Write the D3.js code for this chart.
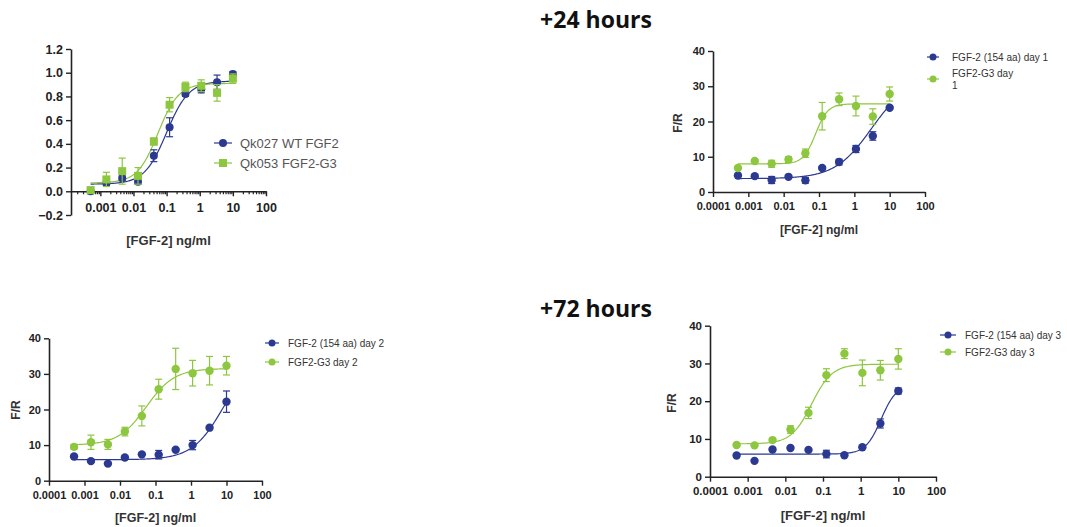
<!DOCTYPE html>
<html>
<head>
<meta charset="utf-8">
<script src="https://cdn.jsdelivr.net/npm/d3@7"></script>
<style>
  body { margin: 0; background: #fff; }
  svg text { font-family: "Liberation Sans", Arial, sans-serif; }
</style>
</head>
<body>
<svg id="chart" width="1067" height="527"></svg>
<script>
// concentrations (3-fold dilution series, ng/ml)
const conc = [0.000508, 0.00152, 0.00457, 0.0137, 0.0412, 0.123, 0.370, 1.11, 3.33, 10];

// +24h, left panel (normalised)
const p1Names = ["Qk027 WT FGF2", "Qk053 FGF2-G3"];
const p1Blue = [0.00, 0.07, 0.11, 0.08, 0.30, 0.54, 0.82, 0.86, 0.92, 0.99];
const p1BlueErr = [0, 0.02, 0.02, 0.02, 0.05, 0.08, 0.02, 0.03, 0.06, 0.02];
const p1Green = [0.01, 0.10, 0.17, 0.13, 0.42, 0.73, 0.88, 0.89, 0.83, 0.95];
const p1GreenErr = [0.01, 0.06, 0.11, 0.07, 0.03, 0.06, 0.04, 0.05, 0.07, 0.04];
const p1BlueFit = [0.06, 0.93, 0.10, 1.3];   // bottom, top, EC50, hill
const p1GreenFit = [0.07, 0.91, 0.055, 1.4];

// +24h, right panel (day 1)
const p2Names = ["FGF-2 (154 aa) day 1", "FGF2-G3 day|1"];
const p2Blue = [4.7, 4.5, 3.4, 4.3, 3.3, 6.8, 8.5, 12.2, 15.9, 23.9];
const p2BlueErr = [0.3, 0.3, 1.0, 0.3, 0.8, 0.3, 0.8, 1.0, 1.2, 0.3];
const p2Green = [6.8, 8.8, 8.0, 9.2, 11.0, 21.5, 26.3, 24.4, 21.4, 27.8];
const p2GreenErr = [0.3, 0.3, 1.0, 0.8, 1.2, 3.9, 1.8, 2.8, 2.2, 2.0];
const p2BlueFit = [3.8, 32, 3, 0.85];
const p2GreenFit = [8.0, 25, 0.08, 2.5];

// +72h, left panel (day 2)
const p3Names = ["FGF-2 (154 aa) day 2", "FGF2-G3 day 2"];
const p3Blue = [6.8, 5.5, 4.8, 6.5, 7.4, 7.3, 8.7, 10.0, 14.9, 22.2];
const p3BlueErr = [0.3, 0.3, 0.3, 0.3, 0.3, 1.2, 0.3, 1.3, 0.3, 3.0];
const p3Green = [9.5, 10.8, 10.2, 13.8, 18.2, 25.7, 31.4, 30.2, 30.9, 32.3];
const p3GreenErr = [0.7, 2.0, 1.4, 1.2, 2.8, 2.8, 5.8, 3.6, 4.0, 2.6];
const p3BlueFit = [5.9, 35, 8, 1.0];
const p3GreenFit = [10, 31.5, 0.055, 1.1];

// +72h, right panel (day 3)
const p4Names = ["FGF-2 (154 aa) day 3", "FGF2-G3 day 3"];
const p4Blue = [5.6, 4.2, 7.2, 7.6, 7.1, 6.0, 5.7, 7.8, 14.1, 22.7];
const p4BlueErr = [0.3, 0.3, 0.3, 0.3, 0.3, 1.0, 0.3, 0.3, 1.2, 0.8];
const p4Green = [8.4, 8.3, 9.7, 12.5, 16.9, 26.9, 32.6, 27.5, 28.2, 31.2];
const p4GreenErr = [0.3, 0.3, 0.3, 1.0, 1.5, 1.7, 1.3, 3.4, 2.6, 2.7];
const p4BlueFit = [6.0, 24.5, 3.5, 2.1];
const p4GreenFit = [8.7, 29.8, 0.05, 1.6];

const majorTicks = [1e-4, 1e-3, 1e-2, 1e-1, 1, 10, 100];
const yTicksNorm = [-0.2, 0, 0.2, 0.4, 0.6, 0.8, 1.0, 1.2];
const yTicksFR = [0, 10, 20, 30, 40];

const BLUE = "#2b3990", GREEN = "#8dc63f";

const svg = d3.select("#chart");

// titles
svg.append("text").attr("x", 596).attr("y", 28).attr("text-anchor", "middle")
    .style("font-family", "'Open Sans', sans-serif").style("font-weight", "bold")
    .style("font-size", "23px").attr("fill", "#111").text("+24 hours");
svg.append("text").attr("x", 596).attr("y", 317).attr("text-anchor", "middle")
    .style("font-family", "'Open Sans', sans-serif").style("font-weight", "bold")
    .style("font-size", "23px").attr("fill", "#111").text("+72 hours");

function logistic(p) {
    return function (c) { return p[0] + (p[1] - p[0]) / (1 + Math.pow(p[2] / c, p[3])); };
}

const panels = [
    { x0: 1.3e-4, xr: [71, 266], yd: [-0.2, 1.2], yr: [215, 49], yTicks: yTicksNorm, yFmt: d3.format(".1f"),
      minor: true, square: true, showFirst: false, ylabel: null, xlabelY: 245, tickFs: 12.5, labFs: 13,
      names: p1Names, blue: p1Blue, blueErr: p1BlueErr, green: p1Green, greenErr: p1GreenErr,
      blueFit: p1BlueFit, greenFit: p1GreenFit,
      leg: { x: 223, y: 143, dy: 20, w: 9, tx: 240, fs: 13, col: "#555" } },
    { x0: 1e-4, xr: [713, 925], yd: [0, 40], yr: [192, 51], yTicks: yTicksFR, yFmt: d3.format("d"),
      minor: false, square: false, showFirst: true, ylabel: [682, 123], xlabelY: 234, tickFs: 11, labFs: 12,
      names: p2Names, blue: p2Blue, blueErr: p2BlueErr, green: p2Green, greenErr: p2GreenErr,
      blueFit: p2BlueFit, greenFit: p2GreenFit,
      leg: { x: 933, y: 57, dy: 22, w: 6, tx: 952, fs: 10, col: "#333" } },
    { x0: 1e-4, xr: [49, 262], yd: [0, 40], yr: [480.7, 338.3], yTicks: yTicksFR, yFmt: d3.format("d"),
      minor: false, square: false, showFirst: true, ylabel: [20, 410], xlabelY: 522, tickFs: 11, labFs: 12.5,
      names: p3Names, blue: p3Blue, blueErr: p3BlueErr, green: p3Green, greenErr: p3GreenErr,
      blueFit: p3BlueFit, greenFit: p3GreenFit,
      leg: { x: 272, y: 343, dy: 19, w: 7, tx: 288, fs: 10, col: "#333" } },
    { x0: 1e-4, xr: [710, 936], yd: [0, 40], yr: [476.7, 325.7], yTicks: yTicksFR, yFmt: d3.format("d"),
      minor: false, square: false, showFirst: true, ylabel: [676, 403], xlabelY: 520, tickFs: 11.5, labFs: 13,
      names: p4Names, blue: p4Blue, blueErr: p4BlueErr, green: p4Green, greenErr: p4GreenErr,
      blueFit: p4BlueFit, greenFit: p4GreenFit,
      leg: { x: 948, y: 335, dy: 17, w: 8, tx: 965, fs: 10, col: "#333" } }
];

panels.forEach(drawPanel);

function drawPanel(p) {
    const x = d3.scaleLog().domain([p.x0, 100]).range(p.xr);
    const y = d3.scaleLinear().domain(p.yd).range(p.yr);
    const g = svg.append("g");

    // x axis along y=0
    const ticks = p.showFirst ? majorTicks : majorTicks.slice(1);
    const xa = g.append("g").attr("transform", "translate(0," + y(0) + ")")
        .call(d3.axisBottom(x).tickValues(ticks).tickSize(5).tickSizeOuter(0).tickFormat(d => String(d)));
    if (p.minor) {
        const minors = [];
        for (let e = -4; e < 2; e++) for (let k = 2; k <= 9; k++) {
            const v = k * Math.pow(10, e);
            if (v > p.x0 && v < 100) minors.push(v);
        }
        g.append("g").attr("transform", "translate(0," + y(0) + ")")
            .call(d3.axisBottom(x).tickValues(minors).tickSize(3).tickFormat(""))
            .call(a => a.select(".domain").remove())
            .selectAll("line").attr("stroke", "#222").attr("stroke-width", 1.2);
    }
    xa.select(".domain").attr("stroke", "#222").attr("stroke-width", 1.6);
    xa.selectAll(".tick line").attr("stroke", "#222").attr("stroke-width", 1.4);
    xa.selectAll(".tick text").attr("fill", "#222").style("font-weight", "bold")
        .style("font-size", p.tickFs + "px")
        .attr("dy", p.yd[0] < 0 ? "1.05em" : "0.9em");

    // y axis
    const ya = g.append("g").attr("transform", "translate(" + p.xr[0] + ",0)")
        .call(d3.axisLeft(y).tickValues(p.yTicks).tickSize(5).tickSizeOuter(0).tickFormat(p.yFmt));
    ya.select(".domain").attr("stroke", "#222").attr("stroke-width", 1.6);
    ya.selectAll(".tick line").attr("stroke", "#222").attr("stroke-width", 1.4);
    ya.selectAll(".tick text").attr("fill", "#222").style("font-weight", "bold")
        .style("font-size", p.tickFs + "px");

    // axis titles
    g.append("text").attr("x", (p.xr[0] + p.xr[1]) / 2).attr("y", p.xlabelY)
        .attr("text-anchor", "middle").attr("fill", "#333").style("font-weight", "bold")
        .style("font-size", p.labFs + "px").text("[FGF-2] ng/ml");
    if (p.ylabel) {
        g.append("text").attr("transform", "translate(" + p.ylabel[0] + "," + p.ylabel[1] + ") rotate(-90)")
            .attr("text-anchor", "middle").attr("fill", "#333").style("font-weight", "bold")
            .style("font-size", "12px").text("F/R");
    }

    // fitted curves
    const grid = d3.range(0, 201).map(i => Math.pow(10, Math.log10(conc[0]) + i * (Math.log10(10) - Math.log10(conc[0])) / 200));
    const line = d3.line().x(d => x(d[0])).y(d => y(d[1]));
    [[p.blueFit, BLUE], [p.greenFit, GREEN]].forEach(function (s) {
        const f = logistic(s[0]);
        g.append("path").attr("d", line(grid.map(c => [c, f(c)])))
            .attr("fill", "none").attr("stroke", s[1]).attr("stroke-width", 1.2);
    });

    // points + error bars (blue first, green on top)
    [[p.blue, p.blueErr, BLUE, false], [p.green, p.greenErr, GREEN, p.square]].forEach(function (s) {
        const vals = s[0], errs = s[1], col = s[2];
        vals.forEach(function (v, i) {
            const cx = x(conc[i]), e = errs[i];
            g.append("line").attr("x1", cx).attr("x2", cx).attr("y1", y(v - e)).attr("y2", y(v + e))
                .attr("stroke", col).attr("stroke-width", 1.2);
            [v - e, v + e].forEach(function (b) {
                g.append("line").attr("x1", cx - 3.5).attr("x2", cx + 3.5).attr("y1", y(b)).attr("y2", y(b))
                    .attr("stroke", col).attr("stroke-width", 1.2);
            });
            if (s[3]) {
                g.append("rect").attr("x", cx - 4).attr("y", y(v) - 4).attr("width", 8).attr("height", 8).attr("fill", col);
            } else {
                g.append("circle").attr("cx", cx).attr("cy", y(v)).attr("r", p.square ? 4 : 4.2).attr("fill", col);
            }
        });
    });

    // legend
    const L = p.leg;
    [[p.names[0], BLUE, false], [p.names[1], GREEN, p.square]].forEach(function (s, i) {
        const ly = L.y + i * L.dy;
        g.append("line").attr("x1", L.x - L.w).attr("x2", L.x + L.w).attr("y1", ly).attr("y2", ly)
            .attr("stroke", s[1]).attr("stroke-width", 1.2);
        if (s[2]) g.append("rect").attr("x", L.x - 4).attr("y", ly - 4).attr("width", 8).attr("height", 8).attr("fill", s[1]);
        else g.append("circle").attr("cx", L.x).attr("cy", ly).attr("r", L.fs > 11 ? 4 : 3.5).attr("fill", s[1]);
        const parts = s[0].split("|");
        const t = g.append("text").attr("x", L.tx).attr("fill", L.col).style("font-size", L.fs + "px");
        const y0 = ly - (parts.length - 1) * L.fs * 0.6;
        parts.forEach(function (txt, j) {
            t.append("tspan").attr("x", L.tx).attr("y", y0 + j * L.fs * 1.2).attr("dy", "0.35em").text(txt);
        });
    });
}
</script>
</body>
</html>
